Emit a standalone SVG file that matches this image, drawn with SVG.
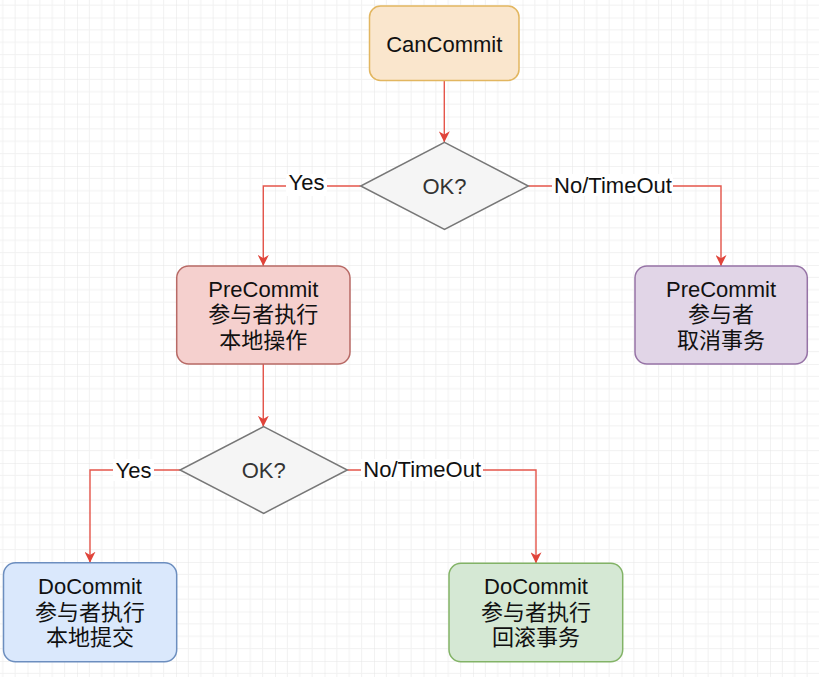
<svg xmlns="http://www.w3.org/2000/svg" width="819" height="677" viewBox="0 0 819 677">
  <defs>
    <pattern id="grid" patternUnits="userSpaceOnUse" x="27.5" y="17.5" width="49.5" height="49.5">
      <path d="M12.375,0 V49.5 M24.75,0 V49.5 M37.125,0 V49.5 M0,12.375 H49.5 M0,24.75 H49.5 M0,37.125 H49.5" stroke="#f1f1f1" stroke-width="1" fill="none"/>
      <path d="M0,0 V49.5 M0,0 H49.5" stroke="#e6e6e6" stroke-width="1" fill="none"/>
    </pattern>
    <marker id="arrow" markerUnits="userSpaceOnUse" markerWidth="11" markerHeight="11" viewBox="0 0 10 10" refX="10" refY="5" orient="auto">
      <path d="M0,0 L10,5 L0,10 L3,5 z" fill="#e0443a"/>
    </marker>
  </defs>
  <style>
    .box { stroke-width: 1.5; }
    .t { font-family: "Liberation Sans", Arial, "Noto Sans CJK SC", sans-serif; font-size: 22px; fill: #111; text-anchor: middle; }
    .dt { font-family: "Liberation Sans", Arial, sans-serif; font-size: 22px; fill: #333; text-anchor: middle; }
    .edge { fill: none; stroke: #e5564b; stroke-width: 1.4; marker-end: url(#arrow); }
    .lbg { fill: #ffffff; }
  </style>
  <rect x="0" y="0" width="819" height="677" fill="#ffffff"/>
  <rect x="0" y="0" width="819" height="677" fill="url(#grid)"/>

  <g id="connectors">
    <path class="edge" d="M444.3,80.7 V142.3"/>
    <path class="edge" d="M360.7,186 H263.3 V266"/>
    <path class="edge" d="M528.3,186 H721 V266"/>
    <path class="edge" d="M263.3,364 V426.7"/>
    <path class="edge" d="M180,470 H90 V562.7"/>
    <path class="edge" d="M347.3,470 H536 V563.3"/>
    <g id="labels">
      <rect class="lbg" x="286" y="174" width="41" height="22"/>
      <text class="t" x="306.5" y="190">Yes</text>
      <rect class="lbg" x="552" y="174" width="121" height="22"/>
      <text class="t" x="613" y="193">No/TimeOut</text>
      <rect class="lbg" x="113" y="459" width="41" height="22"/>
      <text class="t" x="133.5" y="478">Yes</text>
      <rect class="lbg" x="361" y="459" width="122" height="22"/>
      <text class="t" x="422.2" y="477">No/TimeOut</text>
    </g>
  </g>

  <g id="cancommit">
    <rect class="box" x="369.5" y="6" width="149.5" height="74.5" rx="11" fill="#fae6cd" stroke="#e2b660"/>
    <text class="t" x="444.3" y="51.5">CanCommit</text>
  </g>

  <g id="decision1">
    <polygon points="444.5,142.3 528.3,186 444.5,229.3 360.7,186" fill="#f5f5f5" stroke="#777777" stroke-width="1.5"/>
    <text class="dt" x="444.5" y="194">OK?</text>
  </g>

  <g id="precommit-exec">
    <rect class="box" x="176.7" y="266" width="173.3" height="98" rx="12" fill="#f5d0ce" stroke="#b86a66"/>
    <text class="t" x="263.3" y="296.5">PreCommit</text>
    <text class="t" x="263.3" y="322">参与者执行</text>
    <text class="t" x="263.3" y="347.5">本地操作</text>
  </g>

  <g id="precommit-abort">
    <rect class="box" x="635" y="266" width="172.3" height="98" rx="12" fill="#e1d5e7" stroke="#9673a6"/>
    <text class="t" x="721" y="296.5">PreCommit</text>
    <text class="t" x="721" y="322">参与者</text>
    <text class="t" x="721" y="347.5">取消事务</text>
  </g>

  <g id="decision2">
    <polygon points="263.7,426.7 347.3,470 263.7,513.3 180,470" fill="#f5f5f5" stroke="#777777" stroke-width="1.5"/>
    <text class="dt" x="263.7" y="478">OK?</text>
  </g>

  <g id="docommit-commit">
    <rect class="box" x="3.5" y="562.7" width="173.2" height="99" rx="12" fill="#dae8fc" stroke="#6c8ebf"/>
    <text class="t" x="90" y="594">DoCommit</text>
    <text class="t" x="90" y="619.5">参与者执行</text>
    <text class="t" x="90" y="645">本地提交</text>
  </g>

  <g id="docommit-rollback">
    <rect class="box" x="449" y="563.3" width="173.7" height="98.4" rx="12" fill="#d5e8d4" stroke="#82b366"/>
    <text class="t" x="536" y="594">DoCommit</text>
    <text class="t" x="536" y="619.5">参与者执行</text>
    <text class="t" x="536" y="645">回滚事务</text>
  </g>
</svg>
